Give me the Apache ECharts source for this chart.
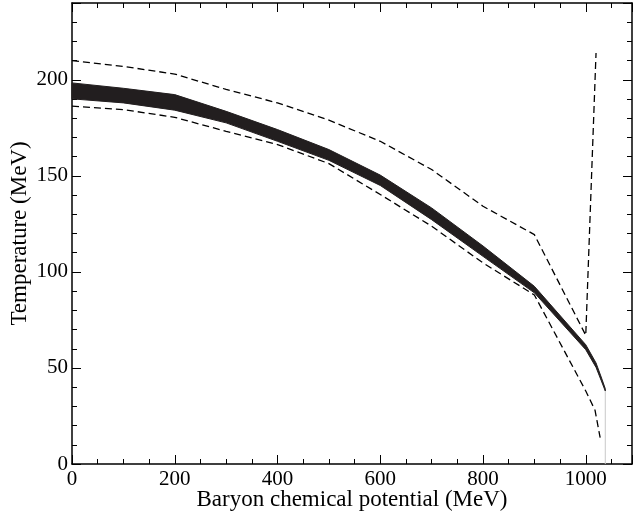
<!DOCTYPE html>
<html>
<head>
<meta charset="utf-8">
<script src="https://cdn.jsdelivr.net/npm/echarts@6/dist/echarts.min.js"></script>
<style>
html,body{margin:0;padding:0;background:#fff;}
#chart{width:633px;height:514px;}
</style>
</head>
<body>
<div id="chart"></div>
<script>
// Baryon chemical potential (MeV) sample points
const bandMu   = [0, 100, 200, 300, 400, 500, 600, 700, 800, 900, 1000, 1020, 1030, 1038];
const bandLow  = [190.1, 188.0, 184.2, 177.6, 168.0, 158.1, 145.0, 127.2, 108.1, 89.1, 59.5, 50.3, 43.5, 38.0];
const bandHigh = [198.4, 195.6, 192.3, 183.6, 174.1, 163.7, 150.4, 133.3, 113.5, 92.5, 62.1, 52.6, 45.3, 39.2];

const upperMu = [0, 100, 200, 300, 400, 500, 600, 700, 800, 900, 1000, 1020];
const upperT  = [210, 207, 203, 195, 188, 179, 168, 153.3, 134.2, 119.4, 67, 214];

const lowerMu = [0, 100, 200, 300, 400, 500, 600, 700, 800, 900, 1000, 1018, 1028];
const lowerT  = [186.3, 184.5, 180.5, 173.2, 166.3, 156.4, 140.3, 123.8, 104.7, 88, 38, 28, 13.7];

const endMu = [1038, 1038];
const endT  = [0, 38];

const xTicks = [0, 200, 400, 600, 800, 1000];
const yTicks = [0, 50, 100, 150, 200];

const pairs = (xs, ys) => xs.map((x, i) => [x, ys[i]]);

const font = "'Liberation Serif', 'DejaVu Serif', serif";
const XMIN = 0, XMAX = 1090, YMIN = 0, YMAX = 240;

function xAxisDef(pos, major) {
  return {
    type: 'value', position: pos, min: XMIN, max: XMAX,
    interval: major ? 200 : 50,
    axisLine: { show: major, onZero: false, lineStyle: { color: '#000', width: 1.5 } },
    axisTick: { show: true, inside: true, length: major ? 9 : 5, lineStyle: { color: '#000', width: 1 } },
    axisLabel: {
      show: major && pos === 'bottom', margin: 5, color: '#000', fontFamily: font, fontSize: 21,
      formatter: v => xTicks.indexOf(v) >= 0 ? String(v) : ''
    },
    splitLine: { show: false },
    name: (major && pos === 'bottom') ? 'Baryon chemical potential (MeV)' : '',
    nameLocation: 'middle', nameGap: 24, nameMoveOverlap: false,
    nameTextStyle: { color: '#000', fontFamily: font, fontSize: 23 }
  };
}
function yAxisDef(pos, major) {
  return {
    type: 'value', position: pos, min: YMIN, max: YMAX,
    interval: major ? 50 : 10,
    axisLine: { show: major, onZero: false, lineStyle: { color: '#000', width: 1.5 } },
    axisTick: { show: true, inside: true, length: major ? 9 : 5, lineStyle: { color: '#000', width: 1 } },
    axisLabel: {
      show: major && pos === 'left', margin: 4, color: '#000', fontFamily: font, fontSize: 21,
      formatter: v => yTicks.indexOf(v) >= 0 ? String(v) : ''
    },
    splitLine: { show: false },
    name: (major && pos === 'left') ? 'Temperature (MeV)' : '',
    nameLocation: 'middle', nameGap: 41, nameMoveOverlap: false,
    nameTextStyle: { color: '#000', fontFamily: font, fontSize: 23 }
  };
}

const chart = echarts.init(document.getElementById('chart'), null, { renderer: 'canvas' });
chart.setOption({
  animation: false,
  backgroundColor: '#fff',
  grid: { left: 72, right: 1, top: 3, bottom: 50, containLabel: false, outerBoundsMode: 'none' },
  xAxis: [xAxisDef('bottom', true), xAxisDef('bottom', false), xAxisDef('top', true), xAxisDef('top', false)],
  yAxis: [yAxisDef('left', true), yAxisDef('left', false), yAxisDef('right', true), yAxisDef('right', false)],
  series: [
    {
      type: 'custom', xAxisIndex: 0, yAxisIndex: 0,
      data: [[bandMu[0], bandLow[0]]],
      renderItem: function (params, api) {
        const pts = [];
        for (let i = 0; i < bandMu.length; i++) pts.push(api.coord([bandMu[i], bandHigh[i]]));
        for (let i = bandMu.length - 1; i >= 0; i--) pts.push(api.coord([bandMu[i], bandLow[i]]));
        return {
          type: 'polygon',
          shape: { points: pts },
          style: { fill: '#221e1f', stroke: '#221e1f', lineWidth: 1 }
        };
      }
    },
    {
      type: 'line', xAxisIndex: 0, yAxisIndex: 0, symbol: 'none',
      data: pairs(upperMu, upperT),
      lineStyle: { color: '#000', width: 1.3, type: [7, 4] }
    },
    {
      type: 'line', xAxisIndex: 0, yAxisIndex: 0, symbol: 'none',
      data: pairs(lowerMu, lowerT),
      lineStyle: { color: '#000', width: 1.3, type: [7, 4] }
    },
    {
      type: 'line', xAxisIndex: 0, yAxisIndex: 0, symbol: 'none',
      data: pairs(endMu, endT),
      lineStyle: { color: '#c8c8c8', width: 1 }
    }
  ]
});
</script>
</body>
</html>
